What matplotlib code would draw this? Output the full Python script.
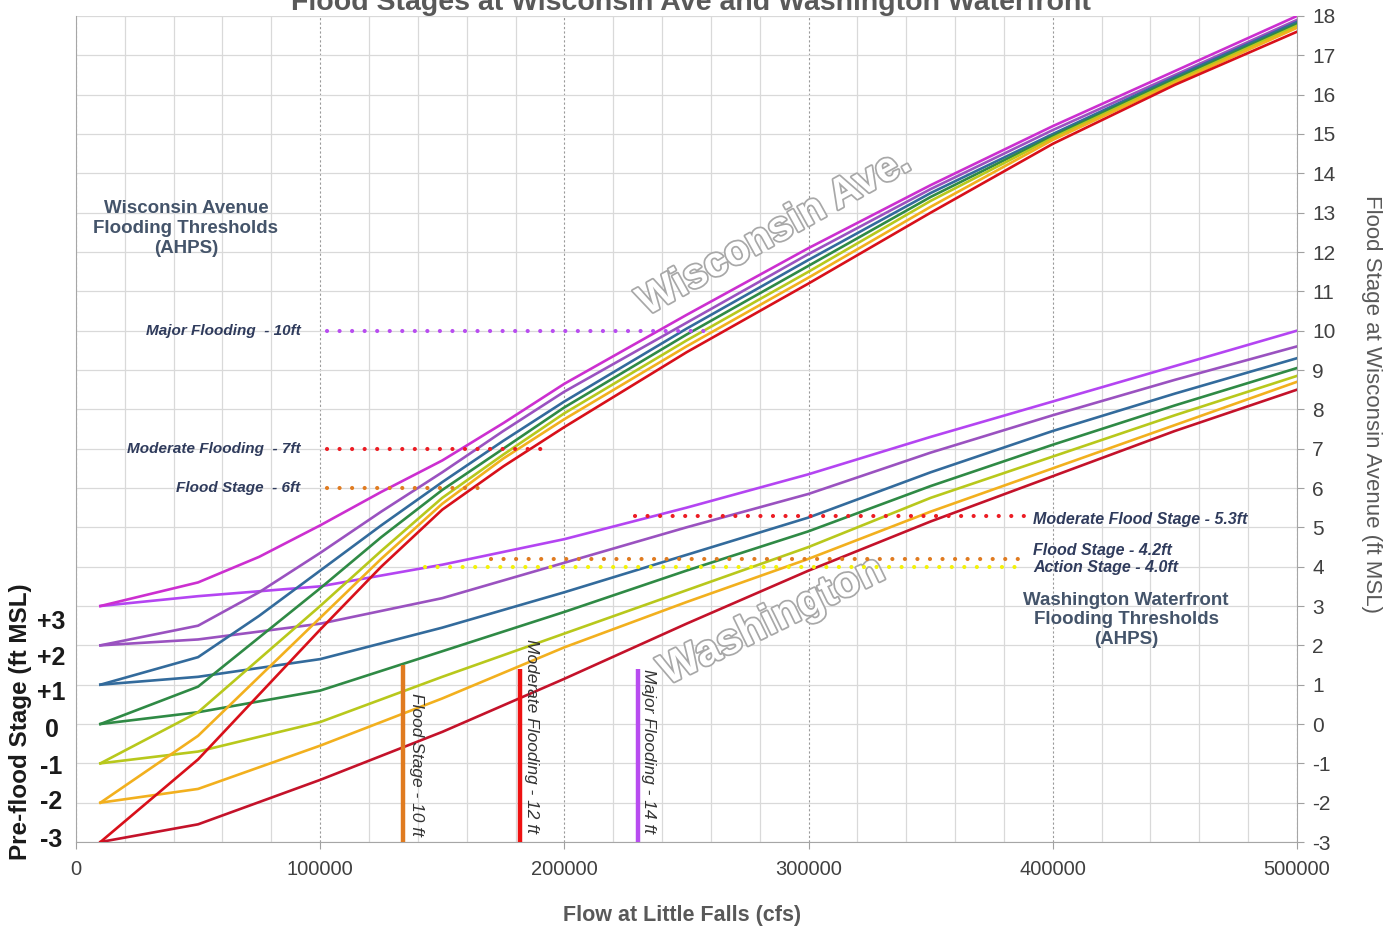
import matplotlib.pyplot as plt
import matplotlib.patheffects as pe
from matplotlib.ticker import MultipleLocator

plt.rcParams['font.family'] = ['Liberation Sans', 'DejaVu Sans']
plt.rcParams['axes.unicode_minus'] = False

# flow at Little Falls (cfs)
wis_flow = [10000, 50000, 75000, 100000, 125000, 150000, 175000, 200000,
            250000, 300000, 350000, 400000, 450000, 500000]
was_flow = [10000, 50000, 100000, 150000, 200000, 250000, 300000, 350000, 400000, 450000, 500000]

# Wisconsin Ave stage (ft MSL) for each pre-flood stage
wis_p3 = [3.0, 3.6, 4.25, 5.05, 5.9, 6.7, 7.65, 8.65, 10.4, 12.1, 13.7, 15.2, 16.6, 18.0]
wis_p2 = [2.0, 2.5, 3.35, 4.35, 5.4, 6.4, 7.45, 8.45, 10.2, 11.95, 13.6, 15.1, 16.5, 17.9]
wis_p1 = [1.0, 1.7, 2.75, 3.9, 5.05, 6.15, 7.2, 8.2, 10.05, 11.8, 13.5, 15.0, 16.45, 17.85]
wis_0 = [0.0, 0.95, 2.2, 3.45, 4.75, 5.95, 7.0, 8.05, 9.9, 11.65, 13.4, 14.95, 16.4, 17.8]
wis_m1 = [-1.0, 0.3, 1.65, 3.0, 4.4, 5.75, 6.85, 7.9, 9.75, 11.5, 13.3, 14.9, 16.35, 17.75]
wis_m2 = [-2.0, -0.3, 1.2, 2.7, 4.2, 5.6, 6.75, 7.75, 9.6, 11.35, 13.15, 14.85, 16.3, 17.7]
wis_m3 = [-3.0, -0.9, 0.75, 2.4, 4.0, 5.45, 6.55, 7.55, 9.45, 11.2, 13.0, 14.75, 16.25, 17.6]

# Washington Waterfront stage (ft MSL)
was_p3 = [3.0, 3.25, 3.5, 4.05, 4.7, 5.5, 6.35, 7.3, 8.2, 9.1, 10.0]
was_p2 = [2.0, 2.15, 2.55, 3.2, 4.1, 5.0, 5.85, 6.9, 7.85, 8.75, 9.6]
was_p1 = [1.0, 1.2, 1.65, 2.45, 3.35, 4.3, 5.25, 6.4, 7.45, 8.4, 9.3]
was_0 = [0.0, 0.3, 0.85, 1.85, 2.85, 3.9, 4.9, 6.05, 7.1, 8.1, 9.05]
was_m1 = [-1.0, -0.7, 0.05, 1.2, 2.3, 3.4, 4.5, 5.75, 6.8, 7.85, 8.85]
was_m2 = [-2.0, -1.65, -0.55, 0.65, 1.95, 3.1, 4.2, 5.4, 6.5, 7.6, 8.7]
was_m3 = [-3.0, -2.55, -1.42, -0.2, 1.15, 2.55, 3.9, 5.15, 6.3, 7.45, 8.5]

stage_labels = ['+3', '+2', '+1', '0', '-1', '-2', '-3']
x_ticks = [0, 100000, 200000, 300000, 400000, 500000]

# threshold lines (AHPS)
wis_thr_levels = [10, 7, 6]
wis_thr_start = [103000, 103000, 103000]
wis_thr_end = [260000, 192000, 165000]
wis_thr_text = ['Major Flooding  - 10ft', 'Moderate Flooding  - 7ft', 'Flood Stage  - 6ft']

was_thr_levels = [5.3, 4.2, 4.0]
was_thr_start = [229000, 170000, 143000]
was_thr_end = [389000, 390000, 388000]
was_thr_text = ['Moderate Flood Stage - 5.3ft', 'Flood Stage - 4.2ft', 'Action Stage - 4.0ft']

# Little Falls flood stages (vertical markers)
lf_flow = [134000, 182000, 230000]
lf_top = [1.5, 1.4, 1.4]
lf_text = ['Flood Stage - 10 ft', 'Moderate Flooding - 12 ft', 'Major Flooding - 14 ft']

wis_series = [wis_p3, wis_p2, wis_p1, wis_0, wis_m1, wis_m2, wis_m3]
was_series = [was_p3, was_p2, was_p1, was_0, was_m1, was_m2, was_m3]
wis_colors = ['#cc2fd0', '#9a52c0', '#336b9c', '#2f8a45', '#b8c81c', '#f2b01e', '#d8101a']
was_colors = ['#b445f2', '#9a52c0', '#336b9c', '#2f8a45', '#b8c81c', '#f2b01e', '#c4122a']

fig = plt.figure(figsize=(13.94, 9.30), dpi=100)
ax = fig.add_axes([0.0545, 0.0946, 0.8759, 0.8882])

ax.set_xlim(0, 500000)
ax.set_ylim(-3, 18)

# grid
ax.set_xticks(x_ticks, [str(v) for v in x_ticks])
ax.xaxis.set_minor_locator(MultipleLocator(20000))
ax.yaxis.set_major_locator(MultipleLocator(1))
ax.grid(which='minor', axis='x', color='#d9d9d9', lw=0.9)
ax.grid(which='major', axis='x', color='#9a9a9a', lw=0.8, linestyle=(0, (2, 2)))
ax.grid(which='major', axis='y', color='#d9d9d9', lw=0.9)
ax.set_axisbelow(True)

# watermark texts
ax.text(286000, 12.5, 'Wisconsin Ave.', rotation=29, ha='center', va='center',
        fontsize=30, fontweight='bold', color='white', zorder=1,
        path_effects=[pe.withStroke(linewidth=2.5, foreground='#a8a8a8')])
ax.text(285000, 2.6, 'Washington', rotation=26, ha='center', va='center',
        fontsize=31, fontweight='bold', color='white', zorder=1,
        path_effects=[pe.withStroke(linewidth=2.5, foreground='#a8a8a8')])

for vals, c in zip(was_series, was_colors):
    ax.plot(was_flow, vals, color=c, lw=1.9, zorder=3)
for vals, c in zip(wis_series, wis_colors):
    ax.plot(wis_flow, vals, color=c, lw=1.9, zorder=3)

# dotted threshold lines
dots = (0, (0.01, 3.0))
wis_thr_colors = ['#b84cf0', '#ec1c24', '#e07b20']
for lvl, x0, x1, c in zip(wis_thr_levels, wis_thr_start, wis_thr_end, wis_thr_colors):
    ax.plot([x0, x1], [lvl, lvl], color=c, lw=3, linestyle=dots,
            dash_capstyle='round', zorder=4)
was_thr_colors = ['#ec1c24', '#e07b20', '#f2f20a']
for lvl, x0, x1, c in zip(was_thr_levels, was_thr_start, was_thr_end, was_thr_colors):
    ax.plot([x0, x1], [lvl, lvl], color=c, lw=3, linestyle=dots,
            dash_capstyle='round', zorder=4)

# vertical Little Falls markers
lf_colors = ['#e07b20', '#ee1111', '#b84cf0']
for x, top, c in zip(lf_flow, lf_top, lf_colors):
    ax.plot([x, x], [-3, top], color=c, lw=3.2, solid_capstyle='butt', zorder=4)

lf_text_x = [136500, 183500, 231500]
lf_text_y = [0.8, 2.15, 1.4]
for x, y, t in zip(lf_text_x, lf_text_y, lf_text):
    ax.text(x, y, t, rotation=270, ha='left', va='top', fontsize=12.5,
            style='italic', color='#333333', zorder=5)

# threshold labels
lab_col = '#2f3b5c'
wis_lab_y = [10, 7, 6]
for y, t in zip(wis_lab_y, wis_thr_text):
    ax.text(92000, y, t, ha='right', va='center', fontsize=11, style='italic',
            fontweight='bold', color=lab_col, zorder=5)
was_lab_y = [5.2, 4.4, 3.97]
for y, t in zip(was_lab_y, was_thr_text):
    ax.text(392000, y, t, ha='left', va='center', fontsize=11.5, style='italic',
            fontweight='bold', color=lab_col, zorder=5)

ax.text(45000, 12.6, 'Wisconsin Avenue\nFlooding Thresholds\n(AHPS)', ha='center',
        va='center', fontsize=13.5, fontweight='bold', color='#44546a',
        linespacing=1.2, zorder=5)
ax.text(430000, 2.65, 'Washington Waterfront\nFlooding Thresholds\n(AHPS)', ha='center',
        va='center', fontsize=13.5, fontweight='bold', color='#44546a',
        linespacing=1.2, zorder=5)

# left pre-flood stage labels
stage_y = [2.59, 1.68, 0.79, -0.15, -1.09, -1.98, -2.95]
for y, s in zip(stage_y, stage_labels):
    ax.text(-0.02, y, s, transform=ax.get_yaxis_transform(), ha='center',
            va='center', fontsize=18, fontweight='bold', color='#1a1a1a')

# axes styling
ax.yaxis.tick_right()
ax.tick_params(axis='y', which='major', length=5, color='#a0a0a0', labelsize=15,
               labelcolor='#404040', pad=6)
ax.tick_params(axis='x', which='major', length=5, color='#a0a0a0', labelsize=14.5,
               labelcolor='#404040', pad=8)
ax.tick_params(axis='x', which='minor', length=0)
ax.spines['top'].set_visible(False)
for side in ['left', 'right', 'bottom']:
    ax.spines[side].set_color('#a6a6a6')

fig.text(0.4957, 0.9892, 'Flood Stages at Wisconsin Ave and Washington Waterfront',
         ha='center', va='baseline', fontsize=20.5, fontweight='bold', color='#595959')
fig.text(0.489, 0.0161, 'Flow at Little Falls (cfs)', ha='center', va='center',
         fontsize=15.5, fontweight='bold', color='#595959')
fig.text(0.984, 0.5656, 'Flood Stage at Wisconsin Avenue (ft MSL)', rotation=270,
         ha='center', va='center', fontsize=16, color='#595959')
fig.text(0.0144, 0.2237, 'Pre-flood Stage (ft MSL)', rotation=90, ha='center',
         va='center', fontsize=17.5, fontweight='bold', color='#1a1a1a')

fig.savefig('out.png', dpi=100)
